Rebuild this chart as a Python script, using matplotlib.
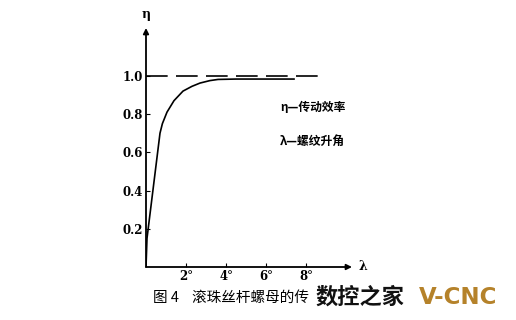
import matplotlib
matplotlib.use("Agg")
import matplotlib.pyplot as plt

# curve: lead angle (deg) vs efficiency
lam = [0, 0.05, 0.7, 0.82, 1.05, 1.4, 1.85, 2.3, 2.7, 3.2, 3.6, 4.5, 7.4]
eta = [0, 0.15, 0.7, 0.75, 0.81, 0.87, 0.92, 0.945, 0.962, 0.975, 0.981, 0.983, 0.983]
ref_lam = [0, 8.8]
ref_eta = [1.0, 1.0]
xticks = [2, 4, 6, 8]
xlabels = ["2°", "4°", "6°", "8°"]
yticks = [0.2, 0.4, 0.6, 0.8, 1.0]
ylabels = ["0.2", "0.4", "0.6", "0.8", "1.0"]
notes = ["η—传动效率", "λ—螺纹升角"]

cjk = ["Noto Sans CJK SC", "DejaVu Sans"]

fig = plt.figure(figsize=(5.16, 3.2), dpi=100)
ax = fig.add_axes([146 / 516, 53 / 320, 206 / 516, 239 / 320])
ax.set_xlim(0, 10.3)
ax.set_ylim(0, 1.25)
for s in ax.spines.values():
    s.set_visible(False)

ax.plot(lam, eta, color="black", lw=1.2)
ax.plot(ref_lam, ref_eta, color="black", lw=1.2, dashes=(13, 5))

# axes with arrows
ax.annotate("", xy=(1.0, 0), xytext=(0, 0), xycoords="axes fraction",
            arrowprops=dict(arrowstyle="-|>", color="black", lw=1.3,
                            mutation_scale=8, shrinkA=0, shrinkB=0))
ax.annotate("", xy=(0, 1.0), xytext=(0, 0), xycoords="axes fraction",
            arrowprops=dict(arrowstyle="-|>", color="black", lw=1.3,
                            mutation_scale=8, shrinkA=0, shrinkB=0))
ax.text(1.03, 0, "λ", transform=ax.transAxes, ha="left", va="center",
        fontsize=9, fontweight="bold", family="DejaVu Serif")
ax.text(0, 1.03, "η", transform=ax.transAxes, ha="center", va="bottom",
        fontsize=9, fontweight="bold", family="DejaVu Serif")

ax.set_xticks(xticks)
ax.set_xticklabels(xlabels)
ax.set_yticks(yticks)
ax.set_yticklabels(ylabels)
ax.tick_params(axis="both", direction="in", length=3, width=0.8, pad=2,
               labelsize=8.5)
for t in ax.get_xticklabels() + ax.get_yticklabels():
    t.set_fontweight("bold")
    t.set_family("DejaVu Serif")

ax.text(6.7, 0.835, notes[0], ha="left", va="center", fontsize=8.5,
        fontweight="bold", family=cjk)
ax.text(6.7, 0.655, notes[1], ha="left", va="center", fontsize=8.5,
        fontweight="bold", family=cjk)

# caption and watermark
fig.text(153 / 516, 1 - 298 / 320, "图 4    滚珠丝杆螺母的传", ha="left",
         va="center", fontsize=10.5, family=cjk)
fig.text(316 / 516, 1 - 297 / 320, "数控之家", ha="left", va="center",
         fontsize=16, fontweight="heavy", family=cjk, color="#111111")
fig.text(419 / 516, 1 - 297 / 320, "V-CNC", ha="left", va="center",
         fontsize=16.5, fontweight="bold", family="DejaVu Sans",
         color="#B5822A")

fig.savefig("out.png", dpi=100)
